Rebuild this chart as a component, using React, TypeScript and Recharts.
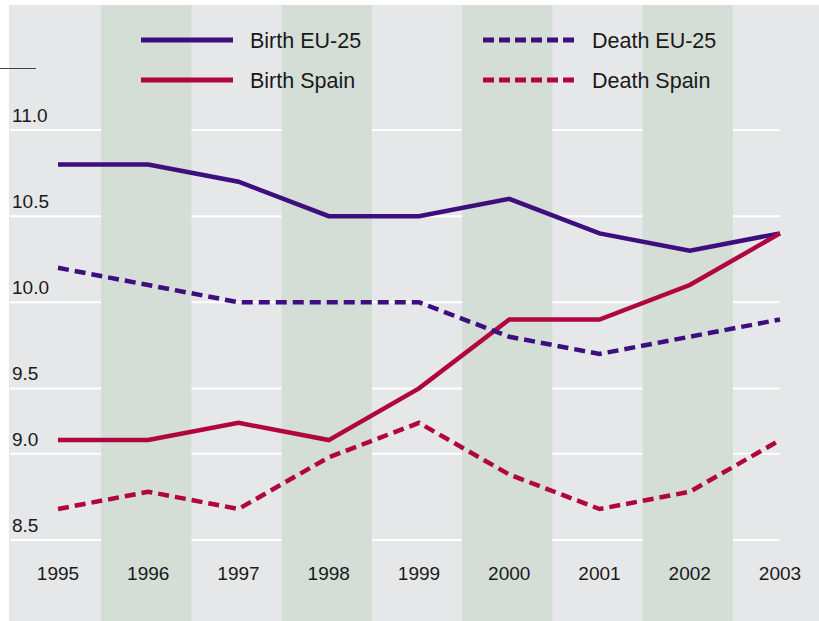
import React from 'react';
import { LineChart, Line, XAxis, YAxis, CartesianGrid, ReferenceArea } from 'recharts';

const years = [1995, 1996, 1997, 1998, 1999, 2000, 2001, 2002, 2003];
const birthEU = [10.8, 10.8, 10.7, 10.5, 10.5, 10.6, 10.4, 10.3, 10.4];
const deathEU = [10.2, 10.1, 10.0, 10.0, 10.0, 9.8, 9.7, 9.8, 9.9];
const birthSpain = [9.2, 9.2, 9.3, 9.2, 9.5, 9.9, 9.9, 10.1, 10.4];
const deathSpain = [8.8, 8.9, 8.8, 9.1, 9.3, 9.0, 8.8, 8.9, 9.2];

// gridlines sit where the original drew them (lower two are unevenly spaced)
const yTicks = [8.62, 9.12, 9.5, 10, 10.5, 11];
const yTickLabels = ['8.5', '9.0', '9.5', '10.0', '10.5', '11.0'];
const bandYears = [1996, 1998, 2000, 2002];

const PURPLE = '#3c0e7e';
const CRIMSON = '#b0053f';
const FONT = '"Liberation Sans", Arial, sans-serif';

const data = years.map((year, i) => ({
	year,
	birthEU: birthEU[i],
	deathEU: deathEU[i],
	birthSpain: birthSpain[i],
	deathSpain: deathSpain[i],
}));

const series = [
	{ key: 'birthEU', name: 'Birth EU-25', color: PURPLE, dash: undefined },
	{ key: 'birthSpain', name: 'Birth Spain', color: CRIMSON, dash: undefined },
	{ key: 'deathEU', name: 'Death EU-25', color: PURPLE, dash: '11 6' },
	{ key: 'deathSpain', name: 'Death Spain', color: CRIMSON, dash: '11 6' },
];

const YTick = ({ y, index }: any) => (
	<text x={12} y={y - 8} fontSize={19} fontFamily={FONT} fill="#1a1a1a" textAnchor="start">
		{yTickLabels[index]}
	</text>
);

const XTick = ({ x, y, payload }: any) => (
	<text x={x} y={y + 40} fontSize={19} fontFamily={FONT} fill="#1a1a1a" textAnchor="middle">
		{payload.value}
	</text>
);

function LegendBlock() {
	const cols = [141, 483];
	const rows = [40, 80];
	return (
		<svg width={819} height={110} style={{ position: 'absolute', left: 0, top: 0 }}>
			{series.map((s, i) => {
				const x = cols[Math.floor(i / 2)];
				const y = rows[i % 2];
				return (
					<g key={s.key}>
						<line x1={x} x2={x + 92} y1={y} y2={y} stroke={s.color} strokeWidth={5} strokeDasharray={s.dash ? '11 5' : undefined} />
						<text x={x + 109} y={y + 8} fontSize={21.5} fontFamily={FONT} fill="#1a1a1a">
							{s.name}
						</text>
					</g>
				);
			})}
		</svg>
	);
}

export default function App() {
	return (
		<div style={{ position: 'absolute', left: 0, top: 0, width: 819, height: 621, background: '#fff' }}>
			<style>{'body{margin:0}'}</style>
			<div style={{ position: 'absolute', left: 9, top: 5, width: 810, height: 616, background: '#e6e7e9' }} />
			<div style={{ position: 'absolute', left: 0, top: 5 }}>
				<LineChart
					width={819}
					height={616}
					data={data}
					margin={{ top: 125, right: 39, left: 9, bottom: 41 }}
				>
					{bandYears.map((yr) => (
						<ReferenceArea
							key={yr}
							x1={yr - 0.5}
							x2={yr + 0.5}
							ifOverflow="visible"
							shape={(p: any) => <rect x={p.x - 2} y={0} width={p.width} height={616} fill="#d4ddd6" />}
						/>
					))}
					<CartesianGrid vertical={false} stroke="#ffffff" strokeWidth={2} />
					<XAxis
						dataKey="year"
						type="number"
						domain={[1995, 2003]}
						ticks={years}
						padding={{ left: 48, right: 0 }}
						axisLine={false}
						tickLine={false}
						tickSize={0}
						tickMargin={0}
						height={40}
						tick={<XTick />}
					/>
					<YAxis
						type="number"
						domain={[8.62, 11]}
						ticks={yTicks}
						width={1}
						axisLine={false}
						tickLine={false}
						interval={0}
						tick={<YTick />}
					/>
					{series.map((s) => (
						<Line
							key={s.key}
							type="linear"
							dataKey={s.key}
							name={s.name}
							stroke={s.color}
							strokeWidth={4.5}
							strokeDasharray={s.dash}
							dot={false}
							activeDot={false}
							isAnimationActive={false}
						/>
					))}
				</LineChart>
			</div>
			<LegendBlock />
			<div style={{ position: 'absolute', left: 0, top: 68, width: 36, height: 1, background: '#444' }} />
		</div>
	);
}
